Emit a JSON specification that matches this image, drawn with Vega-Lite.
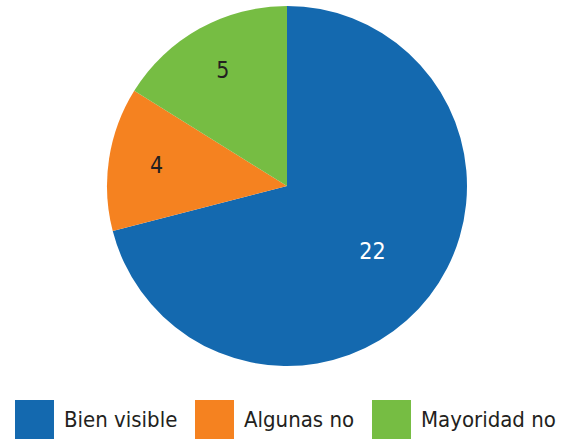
{
  "$schema": "https://vega.github.io/schema/vega-lite/v6.json",
  "autosize": "none",
  "width": 554,
  "height": 372,
  "padding": {"left": 10, "right": 0, "top": 0, "bottom": 68},
  "background": "white",
  "data": {
    "values": [
      {"categoria": "Bien visible", "n": 22, "orden": 1},
      {"categoria": "Algunas no", "n": 4, "orden": 2},
      {"categoria": "Mayoridad no", "n": 5, "orden": 3}
    ]
  },
  "encoding": {
    "theta": {"field": "n", "type": "quantitative", "stack": true},
    "order": {"field": "orden", "type": "quantitative"}
  },
  "layer": [
    {
      "mark": {"type": "arc", "radius": 180, "stroke": null},
      "encoding": {
        "color": {
          "field": "categoria",
          "type": "nominal",
          "scale": {
            "domain": ["Bien visible", "Algunas no", "Mayoridad no"],
            "range": ["#1469AF", "#F58220", "#76BD43"]
          },
          "legend": {
            "title": null,
            "orient": "none",
            "direction": "horizontal",
            "columns": 3,
            "legendX": 5,
            "legendY": 400,
            "symbolType": "square",
            "symbolSize": 1520,
            "symbolStrokeWidth": 0,
            "symbolOpacity": 1,
            "labelFont": "DejaVu Sans Condensed",
            "labelFontSize": 22,
            "labelColor": "#231F20",
            "labelOffset": 10,
            "columnPadding": 17,
            "labelLimit": 300
          }
        }
      }
    },
    {
      "mark": {
        "type": "text",
        "radius": 108,
        "font": "DejaVu Sans Condensed",
        "fontSize": 23,
        "baseline": "middle",
        "align": "center",
        "color": "white"
      },
      "encoding": {
        "text": {"condition": {"test": "datum.orden === 1", "field": "n", "type": "quantitative"}, "value": ""}
      }
    },
    {
      "mark": {
        "type": "text",
        "radius": 132,
        "font": "DejaVu Sans Condensed",
        "fontSize": 23,
        "baseline": "middle",
        "align": "center",
        "color": "#231F20"
      },
      "encoding": {
        "text": {"condition": {"test": "datum.orden !== 1", "field": "n", "type": "quantitative"}, "value": ""}
      }
    }
  ],
  "config": {"view": {"stroke": null}}
}
